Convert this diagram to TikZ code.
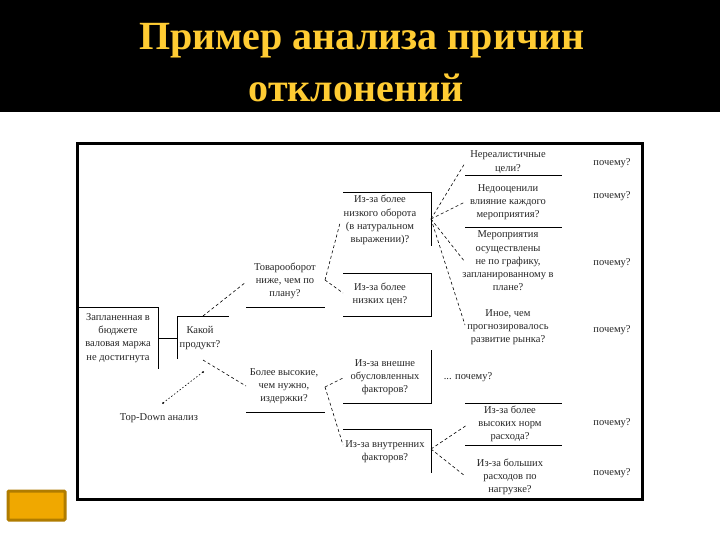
\documentclass[tikz,border=0pt]{standalone}
\usepackage{fontspec}
\setmainfont{Liberation Serif}
\definecolor{titlegold}{HTML}{FFCC33}
\definecolor{btnfill}{HTML}{F0A800}
\definecolor{btnedge}{HTML}{B07C00}
\tikzset{
  tx/.style={align=center,inner sep=0pt,font=\fontsize{10.5}{13.2}\selectfont,text=black!85},
  ttl/.style={inner sep=0pt,text=titlegold,font=\fontsize{40}{46}\selectfont\bfseries},
  rule/.style={draw=black,line width=1pt},
  dsh/.style={draw=black,line width=0.6pt,dash pattern=on 3pt off 2.5pt},
  dott/.style={draw=black,line width=0.6pt,dash pattern=on 1.5pt off 2pt}
}
\begin{document}
\begin{tikzpicture}[x=1pt,y=-1pt]
\useasboundingbox (0,0) rectangle (720,540);
\fill[white] (0,0) rectangle (720,540);
\fill[black] (0,0) rectangle (720,112);
\node[ttl] (t1) at (362,41) {Пример анализа причин};
\node[ttl] (t2) at (356,88) {отклонений};
\draw[black,line width=3pt] (77.5,143.5) rectangle (642.5,499.5);
\draw[btnedge,fill=btnfill,line width=3pt,rounded corners=1pt] (8,491) rectangle (65,520);

% text nodes
\node[tx] (a) at (118,338) {Запланенная в\\бюджете\\валовая маржа\\не достигнута};
\node[tx] (b) at (200,338) {Какой\\продукт?};
\node[tx] (c) at (285,281) {Товарооборот\\ниже, чем по\\плану?};
\node[tx] (d) at (284,386) {Более высокие,\\чем нужно,\\издержки?};
\node[tx] (e) at (159,418) {Top-Down анализ};
\node[tx] (f) at (380,220) {Из-за более\\низкого оборота\\(в натуральном\\выражении)?};
\node[tx] (g) at (380,294) {Из-за более\\низких цен?};
\node[tx] (h) at (385,377) {Из-за внешне\\обусловленных\\факторов?};
\node[tx] (i) at (385,452) {Из-за внутренних\\факторов?};
\node[tx] (j) at (508,162) {Нереалистичные\\цели?};
\node[tx] (k) at (508,202) {Недооценили\\влияние каждого\\мероприятия?};
\node[tx] (l) at (508,261) {Мероприятия\\осуществлены\\не по графику,\\запланированному в\\плане?};
\node[tx] (m) at (508,327) {Иное, чем\\прогнозировалось\\развитие рынка?};
\node[tx] (n) at (510,424) {Из-за более\\высоких норм\\расхода?};
\node[tx] (o) at (510,477) {Из-за больших\\расходов по\\нагрузке?};
\node[tx] (w1) at (612,163) {почему?};
\node[tx] (w2) at (612,196) {почему?};
\node[tx] (w3) at (612,263) {почему?};
\node[tx] (w4) at (612,330) {почему?};
\node[tx] (w5) at (468,377) {... почему?};
\node[tx] (w6) at (612,423) {почему?};
\node[tx] (w7) at (612,473) {почему?};

% connector anchor points
\coordinate (bt) at (203,316);
\coordinate (bb) at (203,360);
\coordinate (ce) at (246,282);
\coordinate (de) at (246,386);
\coordinate (cr) at (325,280);
\coordinate (dr) at (325,387);
\coordinate (fl) at (340,223);
\coordinate (gl) at (343,293);
\coordinate (hl) at (343,378);
\coordinate (il) at (343,445);
\coordinate (fr) at (431,219);
\coordinate (ir) at (431,449);
\coordinate (jl) at (465,163);
\coordinate (kl) at (465,202);
\coordinate (ll) at (465,262);
\coordinate (ml) at (465,325);
\coordinate (nl) at (467,425);
\coordinate (ol) at (465,476);
\coordinate (es) at (163,403);
\coordinate (ee) at (203,372);

% partial box rules
\draw[rule] (78,307) -- (158,307) -- (158,369);
\draw[rule] (158,338) -- (177,338);
\draw[rule] (177,359) -- (177,316) -- (229,316);
\draw[rule] (246,307) -- (325,307);
\draw[rule] (246,412) -- (325,412);
\draw[rule] (343,193) -- (431,193) -- (431,246);
\draw[rule] (343,273) -- (431,273) -- (431,316) -- (343,316);
\draw[rule] (431,350) -- (431,403) -- (343,403);
\draw[rule] (343,429) -- (431,429) -- (431,473);
\draw[rule] (465,145) -- (562,145);
\draw[rule] (465,176) -- (562,176);
\draw[rule] (465,228) -- (562,228);
\draw[rule] (465,403) -- (562,403);
\draw[rule] (465,445) -- (562,445);

% dashed connectors
\draw[dsh] (bt) -- (ce);
\draw[dsh] (bb) -- (de);
\draw[dsh] (cr) -- (fl);
\draw[dsh] (cr) -- (gl);
\draw[dsh] (dr) -- (hl);
\draw[dsh] (dr) -- (il);
\draw[dsh] (fr) -- (jl);
\draw[dsh] (fr) -- (kl);
\draw[dsh] (fr) -- (ll);
\draw[dsh] (fr) -- (ml);
\draw[dsh] (ir) -- (nl);
\draw[dsh] (ir) -- (ol);
\draw[dott] (es) -- (ee);
\fill[black] (es) circle (1pt);
\fill[black] (ee) circle (1pt);
\end{tikzpicture}
\end{document}
